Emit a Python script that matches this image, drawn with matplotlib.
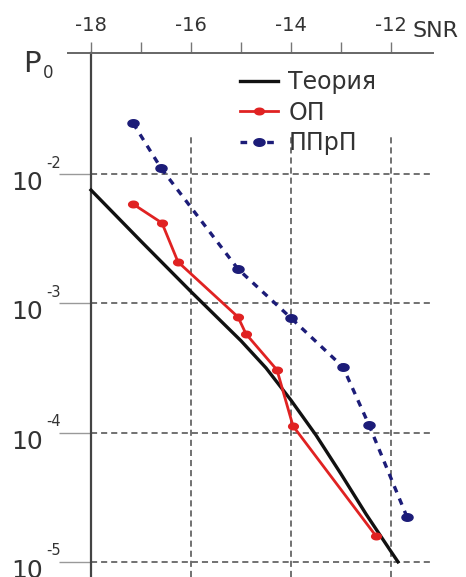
import numpy as np
import matplotlib
matplotlib.use('Agg')
import matplotlib.pyplot as plt
from matplotlib.ticker import NullLocator
from matplotlib.path import Path

plt.rcParams['font.family'] = ['DejaVu Sans']

# Data (SNR, log10 P0)
theory_snr = [-18.0, -17.0, -16.0, -15.0, -14.5, -14.0, -13.5, -13.0, -12.5, -12.0, -11.86]
theory_log = [-2.124, -2.52, -2.91, -3.29, -3.50, -3.75, -4.02, -4.32, -4.63, -4.92, -5.0]

op_snr = [-17.16, -16.58, -16.26, -15.06, -14.9, -14.28, -13.96, -12.3]
op_log = [-2.232, -2.379, -2.68, -3.106, -3.237, -3.516, -3.949, -4.80]

pprp_snr = [-17.16, -16.6, -15.06, -14.0, -12.96, -12.44, -11.68]
pprp_log = [-1.606, -1.954, -2.735, -3.114, -3.493, -3.941, -4.653]

labels = ['Теория', 'ОП', 'ППрП']
x_major = [-18, -16, -14, -12]
x_minor = [-17, -15, -13]
y_decades = [-2, -3, -4, -5]

W, H = 466, 577
fig = plt.figure(figsize=(W / 100, H / 100), dpi=100)
ax = fig.add_axes([68 / W, 0, 365 / W, 524 / H])

txt = '#333333'
grid_c = '#4a4a4a'
dash = (0, (4, 2.6))

ax.set_yscale('log')
ax.set_xlim(-18.46, -11.16)
ylo, yhi = 10 ** -5.117, 10 ** -1.064
ax.set_ylim(ylo, yhi)

# flat ellipse marker, like the scanned dots
t = np.linspace(0, 2 * np.pi, 40)
ell = Path(np.column_stack([np.cos(t), 0.68 * np.sin(t)]), closed=True)

ax.plot(theory_snr, 10 ** np.array(theory_log), color='#111111', lw=2.4,
        label=labels[0], zorder=4, solid_joinstyle='round')
ax.plot(op_snr, 10 ** np.array(op_log), color='#e02222', lw=2, marker=ell,
        ms=7, label=labels[1], zorder=5)
ax.plot(pprp_snr, 10 ** np.array(pprp_log), color='#1c1c78', lw=2.4,
        ls=(0, (2.0, 2.0)), marker=ell, ms=8, label=labels[2], zorder=5)

# grid
ax.hlines([10.0 ** d for d in y_decades], -18, -11.16, colors=grid_c,
          linestyles=dash, lw=1.1, zorder=1)
ax.vlines(x_major[1:], ylo, 10 ** -1.71, colors=grid_c, linestyles=dash,
          lw=1.1, zorder=1)

# spines
for s in ['right', 'bottom']:
    ax.spines[s].set_visible(False)
ax.spines['left'].set_position(('data', -18))
ax.spines['left'].set_color('#444444')
ax.spines['left'].set_linewidth(1.6)
ax.spines['top'].set_color('#666666')
ax.spines['top'].set_linewidth(1.4)

# x ticks on top
ax.xaxis.tick_top()
ax.set_xticks(x_major)
ax.set_xticklabels(['-18', '-16', '-14', '-12'])
ax.set_xticks(x_minor, minor=True)
ax.tick_params(axis='x', which='both', direction='out', length=8, width=1,
               color='#777777', labelsize=14, labelcolor=txt, pad=5)

# y ticks
ax.set_yticks([10.0 ** d for d in y_decades])
ax.yaxis.set_minor_locator(NullLocator())
ax.tick_params(axis='y', which='major', direction='out', length=23, width=1,
               color='#999999', labelleft=False)

ytr = ax.get_yaxis_transform()
for d in y_decades:
    ax.annotate('10', xy=(0, 10.0 ** d), xycoords=ytr, xytext=(-25, -9),
                textcoords='offset pixels', ha='right', va='center',
                fontsize=18, color=txt)
    ax.annotate(str(d), xy=(0, 10.0 ** d), xycoords=ytr, xytext=(-22, 11),
                textcoords='offset pixels', ha='left', va='center',
                fontsize=10.5, color=txt)

# axis labels
fig.text(23 / W, 1 - 64 / H, 'P', fontsize=21, color=txt, ha='left', va='center')
fig.text(43 / W, 1 - 73 / H, '0', fontsize=12, color=txt, ha='left', va='center')
fig.text(413 / W, 1 - 31 / H, 'SNR', fontsize=16, color=txt, ha='left', va='center')

leg = ax.legend(loc='upper left', bbox_to_anchor=(240 / W, 1 - 70 / H),
                bbox_transform=fig.transFigure, frameon=False, fontsize=17,
                borderpad=0, handlelength=1.6, handletextpad=0.45,
                labelspacing=0.28, borderaxespad=0)
for tx in leg.get_texts():
    tx.set_color(txt)

fig.savefig('out.png', dpi=100)
